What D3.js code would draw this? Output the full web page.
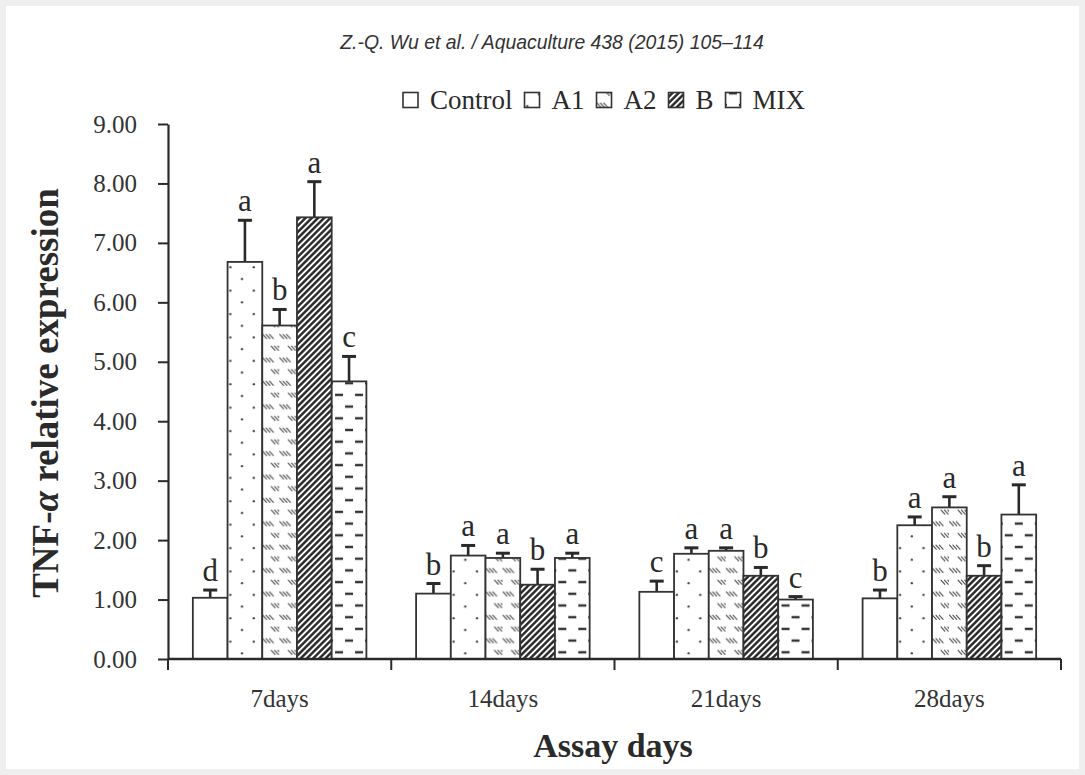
<!DOCTYPE html>
<html><head><meta charset="utf-8">
<script src="https://cdn.jsdelivr.net/npm/d3@7"></script>
<style>body{margin:0;background:#fff} svg{display:block}</style>
</head><body>
<svg id="chart" width="1085" height="775"></svg>
<script>
// Assay days and treatment groups
const categories = ["7days", "14days", "21days", "28days"];
const seriesNames = ["Control", "A1", "A2", "B", "MIX"];

// Mean TNF-α relative expression per group
const controlValues = [1.03, 1.10, 1.13, 1.02];
const a1Values      = [6.68, 1.74, 1.77, 2.25];
const a2Values      = [5.61, 1.70, 1.82, 2.55];
const bValues       = [7.43, 1.25, 1.40, 1.40];
const mixValues     = [4.67, 1.70, 1.00, 2.43];

// Standard errors (upper bars only)
const controlErrors = [0.13, 0.17, 0.18, 0.14];
const a1Errors      = [0.70, 0.17, 0.10, 0.14];
const a2Errors      = [0.27, 0.08, 0.05, 0.18];
const bErrors       = [0.60, 0.26, 0.14, 0.17];
const mixErrors     = [0.42, 0.08, 0.05, 0.50];

// Significance letters
const controlLetters = ["d", "b", "c", "b"];
const a1Letters      = ["a", "a", "a", "a"];
const a2Letters      = ["b", "a", "a", "a"];
const bLetters       = ["a", "b", "b", "b"];
const mixLetters     = ["c", "a", "c", "a"];

const yTickValues = [0, 1, 2, 3, 4, 5, 6, 7, 8, 9];

const series = [
  { name: "Control", values: controlValues, errors: controlErrors, letters: controlLetters, fill: "#ffffff" },
  { name: "A1", values: a1Values, errors: a1Errors, letters: a1Letters, fill: "url(#pat-dots)" },
  { name: "A2", values: a2Values, errors: a2Errors, letters: a2Letters, fill: "url(#pat-dashdiag)" },
  { name: "B", values: bValues, errors: bErrors, letters: bLetters, fill: "url(#pat-stripes)" },
  { name: "MIX", values: mixValues, errors: mixErrors, letters: mixLetters, fill: "url(#pat-dashes)" }
];

const svg = d3.select("#chart");
const W = 1085, H = 775;
const ink = "#2a2a2a";
const serif = "'Liberation Serif', 'Times New Roman', serif";

// page frame
svg.append("rect").attr("width", W).attr("height", H).attr("fill", "#efefef");
svg.append("rect").attr("x", 6).attr("y", 6).attr("width", W - 12).attr("height", H - 12).attr("fill", "#ffffff");

// scales
const x = d3.scaleBand().domain(categories).range([168, 1061]).paddingInner(0).paddingOuter(0);
const x1 = d3.scaleBand().domain(seriesNames).range([0, x.bandwidth()]).paddingInner(0).paddingOuter(0.716);
const y = d3.scaleLinear().domain([0, 9]).range([659, 124]);
const bw = x1.bandwidth();

// fill patterns
const defs = svg.append("defs");

// A1: staggered dots
const pDots = defs.append("pattern").attr("id", "pat-dots")
  .attr("patternUnits", "userSpaceOnUse").attr("width", 23.4).attr("height", 23.4);
pDots.append("rect").attr("width", 23.4).attr("height", 23.4).attr("fill", "#fff");
pDots.append("circle").attr("cx", 2.8).attr("cy", 6).attr("r", 1.15).attr("fill", "#444");
pDots.append("circle").attr("cx", 14.5).attr("cy", 17.7).attr("r", 1.15).attr("fill", "#444");

// A2: little groups of short back-slashes, staggered row by row
const pDiag = defs.append("pattern").attr("id", "pat-dashdiag")
  .attr("patternUnits", "userSpaceOnUse").attr("width", 17).attr("height", 23.4);
pDiag.append("rect").attr("width", 17).attr("height", 23.4).attr("fill", "#fff");
const slashGroups = [[0.5, 3], [9, 14.7]];
slashGroups.forEach(([gx, gy]) => {
  [0, 3.4, 6.8].forEach(dx => {
    pDiag.append("line")
      .attr("x1", gx + dx).attr("y1", gy).attr("x2", gx + dx + 3.8).attr("y2", gy + 4.2)
      .attr("stroke", "#444").attr("stroke-width", 1.05).attr("stroke-linecap", "round");
  });
});

// B: dense forward diagonal stripes
const pStripes = defs.append("pattern").attr("id", "pat-stripes")
  .attr("patternUnits", "userSpaceOnUse").attr("width", 10).attr("height", 4.4)
  .attr("patternTransform", "rotate(-45)");
pStripes.append("rect").attr("width", 10).attr("height", 4.4).attr("fill", "#fff");
pStripes.append("line").attr("x1", 0).attr("x2", 10).attr("y1", 2.2).attr("y2", 2.2)
  .attr("stroke", "#222").attr("stroke-width", 2.4);

// MIX: brick of horizontal dashes
const pDash = defs.append("pattern").attr("id", "pat-dashes")
  .attr("patternUnits", "userSpaceOnUse").attr("width", 20).attr("height", 23.4)
  .attr("x", bw / 2 - 10).attr("y", 5);
pDash.append("rect").attr("width", 20).attr("height", 23.4).attr("fill", "#fff");
[[6, 14, 0], [6, 14, 23.4], [-4, 4, 11.7], [16, 24, 11.7]].forEach(([a, b, yy]) => {
  pDash.append("line").attr("x1", a).attr("x2", b).attr("y1", yy).attr("y2", yy)
    .attr("stroke", "#333").attr("stroke-width", 2.4);
});

// header line
svg.append("text")
  .attr("x", 552).attr("y", 49)
  .attr("text-anchor", "middle")
  .attr("font-family", "'Liberation Sans', sans-serif")
  .attr("font-style", "italic")
  .attr("font-size", 20)
  .attr("fill", "#333")
  .attr("transform", "translate(552,0) scale(0.97,1) translate(-552,0)")
  .text("Z.-Q. Wu et al. / Aquaculture 438 (2015) 105–114");

// bars, error bars and letters
categories.forEach((cat, ci) => {
  const g = svg.append("g").attr("transform", `translate(${x(cat)},0)`);
  series.forEach(s => {
    const v = s.values[ci], e = s.errors[ci];
    const bx = x1(s.name);
    const cx = bx + bw / 2;
    // error bar
    g.append("line").attr("x1", cx).attr("x2", cx).attr("y1", y(v)).attr("y2", y(v + e))
      .attr("stroke", ink).attr("stroke-width", 2.6);
    g.append("line").attr("x1", cx - 7).attr("x2", cx + 7).attr("y1", y(v + e)).attr("y2", y(v + e))
      .attr("stroke", ink).attr("stroke-width", 3);
    // bar, drawn in a local frame so the fill pattern starts at the bar
    const bg = g.append("g").attr("transform", `translate(${bx},${y(0)})`);
    bg.append("rect")
      .attr("x", 0).attr("y", y(v) - y(0))
      .attr("width", bw).attr("height", y(0) - y(v))
      .attr("fill", s.fill)
      .attr("stroke", "#333").attr("stroke-width", 1.8);
    // letter
    g.append("text")
      .attr("x", cx).attr("y", y(v + e) - 9)
      .attr("text-anchor", "middle")
      .attr("font-family", serif).attr("font-size", 31).attr("fill", ink)
      .text(s.letters[ci]);
  });
});

// y axis
const yAxis = svg.append("g").attr("transform", "translate(168,0)")
  .call(d3.axisLeft(y).tickValues(yTickValues).tickFormat(d3.format(".2f"))
    .tickSize(10).tickSizeOuter(0).tickPadding(21));
yAxis.select(".domain").attr("stroke", ink).attr("stroke-width", 2.2);
yAxis.selectAll(".tick line").attr("stroke", ink).attr("stroke-width", 2);
yAxis.selectAll(".tick text").attr("font-family", serif).attr("font-size", 25).attr("fill", "#333");

// x axis: labels at band centres, ticks at band edges
const xAxis = svg.append("g").attr("transform", `translate(0,${y(0)})`)
  .call(d3.axisBottom(x).tickSize(0).tickSizeOuter(0).tickPadding(30));
xAxis.select(".domain").remove();
xAxis.selectAll(".tick text").attr("font-family", serif).attr("font-size", 25).attr("fill", "#333");
const edges = categories.map(c => x(c)).concat([x(categories[categories.length - 1]) + x.bandwidth()]);
xAxis.append("line").attr("x1", x.range()[0]).attr("x2", x.range()[1]).attr("y1", 0).attr("y2", 0)
  .attr("stroke", ink).attr("stroke-width", 2.4);
xAxis.selectAll("line.edge").data(edges).join("line").attr("class", "edge")
  .attr("x1", d => d).attr("x2", d => d).attr("y1", 0).attr("y2", 11)
  .attr("stroke", ink).attr("stroke-width", 2);

// axis titles
const yTitle = svg.append("text")
  .attr("transform", "translate(58,393) rotate(-90)")
  .attr("text-anchor", "middle")
  .attr("font-family", serif).attr("font-weight", "bold").attr("font-size", 37).attr("fill", ink);
yTitle.append("tspan").text("TNF-");
yTitle.append("tspan").attr("font-style", "italic").text("α");
yTitle.append("tspan").text(" relative expression");
svg.append("text")
  .attr("x", 613).attr("y", 757)
  .attr("text-anchor", "middle")
  .attr("font-family", serif).attr("font-weight", "bold").attr("font-size", 34).attr("fill", ink)
  .text("Assay days");

// legend
const legend = svg.append("g").attr("transform", "translate(403,100)");
let lx = 0;
series.forEach(s => {
  const item = legend.append("g").attr("transform", `translate(${lx},0)`);
  item.append("rect").attr("x", 0).attr("y", -7.5).attr("width", 15).attr("height", 15)
    .attr("fill", s.fill).attr("stroke", "#333").attr("stroke-width", 1.6);
  const t = item.append("text").attr("x", 27).attr("y", 9)
    .attr("font-family", serif).attr("font-size", 27).attr("fill", ink).text(s.name);
  lx += 27 + t.node().getComputedTextLength() + 12;
});
</script>
</body></html>
